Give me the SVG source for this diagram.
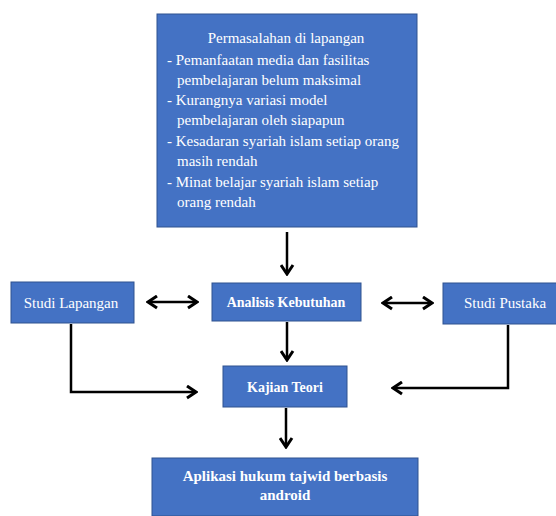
<svg xmlns="http://www.w3.org/2000/svg" width="556" height="516" viewBox="0 0 556 516">
<defs>
<style>
.box{fill:#4472C4;stroke:#2F528F;stroke-width:1}
.t{font-family:"Liberation Serif","Times New Roman",serif;font-size:15px;fill:#fff}
.b{font-weight:bold}
.c{text-anchor:middle}
.ln{fill:none;stroke:#000;stroke-width:2.5}
</style>
<marker id="ah" viewBox="0 0 13 15" refX="11" refY="7.5" markerWidth="13" markerHeight="15" markerUnits="userSpaceOnUse" orient="auto-start-reverse">
<path d="M2,1.5 L11,7.5 L2,13.5" fill="none" stroke="#000" stroke-width="3"/>
</marker>
</defs>
<rect width="556" height="516" fill="#fff"/>
<g id="connectors">
<line class="ln" x1="287" y1="232" x2="287" y2="274" marker-end="url(#ah)"/>
<line class="ln" x1="148" y1="302" x2="197" y2="302" marker-start="url(#ah)" marker-end="url(#ah)"/>
<line class="ln" x1="383" y1="303" x2="432" y2="303" marker-start="url(#ah)" marker-end="url(#ah)"/>
<line class="ln" x1="287" y1="322" x2="287" y2="360" marker-end="url(#ah)"/>
<polyline class="ln" points="71,324 71,392 196,392" marker-end="url(#ah)"/>
<polyline class="ln" points="508,325 508,388 393,388" marker-end="url(#ah)"/>
<line class="ln" x1="286" y1="408" x2="286" y2="447" marker-end="url(#ah)"/>
</g>
<g id="masalah">
<rect class="box" x="157" y="14" width="260" height="213"/>
<text class="t c" x="286" y="43">Permasalahan di lapangan</text>
<text class="t" x="167" y="65">- Pemanfaatan media dan fasilitas</text>
<text class="t" x="177" y="85">pembelajaran belum maksimal</text>
<text class="t" x="167" y="105">- Kurangnya variasi model</text>
<text class="t" x="177" y="125">pembelajaran oleh siapapun</text>
<text class="t" x="167" y="146">- Kesadaran syariah islam setiap orang</text>
<text class="t" x="177" y="166">masih rendah</text>
<text class="t" x="167" y="187">- Minat belajar syariah islam setiap</text>
<text class="t" x="177" y="207">orang rendah</text>
</g>
<g id="studi-lapangan">
<rect class="box" x="11" y="282" width="123" height="41"/>
<text class="t c" x="71" y="308">Studi Lapangan</text>
</g>
<g id="analisis">
<rect class="box" x="212" y="283" width="149" height="38"/>
<text class="t b c" x="286" y="307" style="font-size:14px">Analisis Kebutuhan</text>
</g>
<g id="studi-pustaka">
<rect class="box" x="443" y="283" width="118" height="41"/>
<text class="t c" x="505" y="308">Studi Pustaka</text>
</g>
<g id="kajian">
<rect class="box" x="223" y="366" width="124" height="41"/>
<text class="t b c" x="285" y="392" style="font-size:14px">Kajian Teori</text>
</g>
<g id="aplikasi">
<rect class="box" x="152" y="458" width="266" height="58"/>
<text class="t b c" x="285" y="481">Aplikasi hukum tajwid berbasis</text>
<text class="t b c" x="285" y="500">android</text>
</g>
</svg>
